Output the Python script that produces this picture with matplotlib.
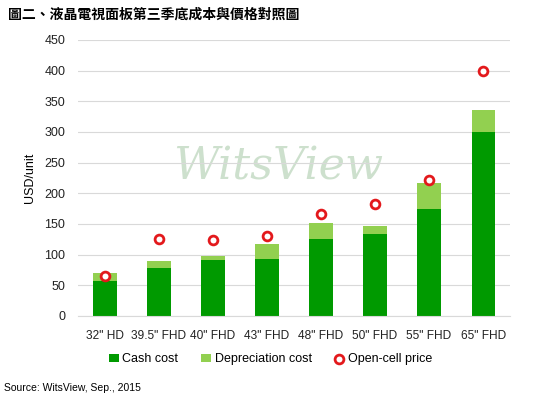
import matplotlib
matplotlib.use("Agg")
import matplotlib.pyplot as plt
import numpy as np

plt.rcParams['font.family'] = ['Liberation Sans', 'Noto Sans CJK TC', 'DejaVu Sans']

# 圖二資料 (USD/unit)
panels = ['32" HD', '39.5" FHD', '40" FHD', '43" FHD', '48" FHD', '50" FHD', '55" FHD', '65" FHD']
cash_cost = [57, 79, 91, 93, 126, 133, 175, 300]
depreciation_cost = [13, 11, 7, 24, 25, 14, 42, 36]
open_cell_price = [66, 126, 124, 131, 167, 182, 221, 400]

fig = plt.figure(figsize=(5.41, 3.95), dpi=100)
ax = fig.add_axes([0.144, 0.2, 0.799, 0.699])

x = np.arange(len(panels))
b1 = ax.bar(x, cash_cost, width=0.43, color='#009a00', label='Cash cost', zorder=2)
b2 = ax.bar(x, depreciation_cost, width=0.43, bottom=cash_cost, color='#92d050',
            label='Depreciation cost', zorder=2)
sc = ax.scatter(x, open_cell_price, s=40, facecolors='white', edgecolors='#e3191c',
                linewidths=2, label='Open-cell price', zorder=3)

ax.set_ylim(0, 450)
ax.set_yticks(range(0, 451, 50))
ax.set_xlim(-0.5, len(panels) - 0.5)
ax.set_xticks(x)
ax.set_xticklabels(panels, fontsize=8.6)
ax.tick_params(axis='both', length=0, colors='#222222')
ax.tick_params(axis='y', labelsize=9, pad=9)
ax.tick_params(axis='x', pad=10)
ax.grid(axis='y', color='#d9d9d9', linewidth=0.8, zorder=0)
for s in ['top', 'right', 'left']:
    ax.spines[s].set_visible(False)
ax.spines['bottom'].set_color('#d9d9d9')
ax.set_ylabel('USD/unit', fontsize=9, labelpad=6)

# 浮水印
ax.text(0.463, 0.54, 'WitsView', transform=ax.transAxes, fontsize=32,
        family='DejaVu Serif', style='italic', color='#c5dbc5', alpha=0.85,
        ha='center', va='center', zorder=1)

fig.legend(handles=[b1, b2, sc], loc='center', bbox_to_anchor=(0.5, 0.09), ncol=3,
           frameon=False, fontsize=9, handlelength=0.8, handletextpad=0.3,
           columnspacing=1.8)

fig.text(0.015, 0.962, '圖二、液晶電視面板第三季底成本與價格對照圖', fontsize=10,
         fontweight='bold', va='center', family=['Noto Sans CJK TC'])
fig.text(0.008, 0.018, 'Source: WitsView, Sep., 2015', fontsize=7.5, va='center')

fig.savefig('out.png', dpi=100)
